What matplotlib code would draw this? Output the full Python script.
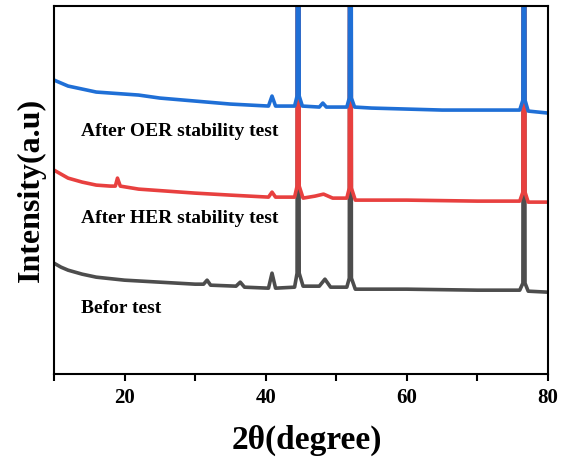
import matplotlib
matplotlib.use("Agg")
import matplotlib.pyplot as plt
from matplotlib.ticker import MultipleLocator

plt.rcParams["font.family"] = ["Liberation Serif", "DejaVu Serif"]
plt.rcParams["font.weight"] = "bold"

# ── Data (offset already applied) ───────────────────────────────────────
oer_x = [10, 11, 12, 14, 16, 18, 20, 22, 25, 30, 35, 40.4, 40.9, 41.4,
         44.1, 44.45, 44.6, 44.75, 45.2, 47.6, 48.1, 48.6, 51.5, 51.85, 52.0,
         52.15, 52.6, 55, 60, 65, 70, 76.0, 76.45, 76.6, 76.75, 77.2, 80]
oer_y = [294, 291, 288, 285, 282, 281, 280, 279, 276, 273, 270, 268, 278, 268,
         268, 278, 1000, 278, 268, 267, 271, 267, 267, 276, 1000,
         276, 267, 266, 265, 264, 264, 264, 274, 1000, 274, 263, 261]

her_x = [10, 11, 12, 14, 16, 18, 18.7, 19.0, 19.4, 22, 26, 30, 35, 40.4,
         40.9, 41.4, 44.1, 44.45, 44.6, 44.75, 45.3, 47.0, 48.2, 49.5, 51.5,
         51.85, 52.0, 52.15, 52.7, 60, 70, 76.0, 76.45, 76.6, 76.75, 77.2, 80]
her_y = [204, 200, 196, 192, 189, 188, 188, 196, 188, 185, 183, 181, 179, 177,
         182, 177, 177, 188, 1000, 188, 176, 178, 180, 176, 176,
         186, 1000, 186, 174, 174, 173, 173, 182, 1000, 182, 172, 172]

pre_x = [10, 11, 12, 14, 16, 20, 25, 30, 31.2, 31.7, 32.2, 35.8, 36.4, 37.0,
         40.4, 40.9, 41.4, 44.1, 44.45, 44.6, 44.75, 45.3, 47.6, 48.4, 49.2,
         51.5, 51.85, 52.0, 52.15, 52.7, 60, 70, 76.0, 76.45, 76.6, 76.75, 77.2, 80]
pre_y = [111, 107, 104, 100, 97, 94, 92, 90, 90, 94, 89, 88, 92, 87,
         86, 101, 86, 87, 101, 1000, 101, 88, 88, 95, 87,
         87, 96, 1000, 96, 85, 85, 84, 84, 91, 1000, 91, 83, 82]

labels = ["After OER stability test", "After HER stability test", "Befor test"]
label_y = [243, 156, 66]

# ── Plot ────────────────────────────────────────────────────────────────
fig = plt.figure(figsize=(5.62, 4.62), dpi=100)
ax = fig.add_axes([0.096, 0.19, 0.879, 0.797])

ax.plot(pre_x, pre_y, color="#4d4d4d", lw=2.6, solid_joinstyle="round")
ax.plot(her_x, her_y, color="#e8403f", lw=2.6, solid_joinstyle="round")
ax.plot(oer_x, oer_y, color="#1f6fd6", lw=2.6, solid_joinstyle="round")

for txt, yy in zip(labels, label_y):
    ax.text(13.8, yy, txt, fontsize=14, fontweight="bold", va="center", ha="left")

ax.set_xlim(10, 80)
ax.set_ylim(0, 368)
ax.xaxis.set_major_locator(MultipleLocator(20))
ax.xaxis.set_minor_locator(MultipleLocator(10))
ax.tick_params(axis="x", which="both", direction="out", length=5, width=1.5,
               labelsize=15, pad=5)
ax.tick_params(axis="y", left=False, labelleft=False)
for lab in ax.get_xticklabels():
    lab.set_fontweight("bold")
for sp in ax.spines.values():
    sp.set_linewidth(1.5)

ax.set_xlabel("2θ(degree)", fontsize=24, fontweight="bold")
ax.xaxis.set_label_coords(0.512, -0.137)
ax.set_ylabel("Intensity(a.u)", fontsize=23, fontweight="bold", labelpad=6)

fig.savefig("out.png", dpi=100)
